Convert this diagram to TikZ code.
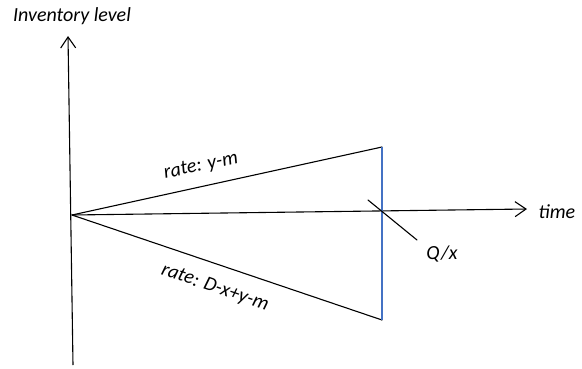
\documentclass[tikz,border=0pt]{standalone}
\usepackage{fontspec}
\setmainfont{Carlito}
\usetikzlibrary{arrows.meta}
\definecolor{officeblue}{RGB}{68,114,196}

\begin{document}
\begin{tikzpicture}[x=1pt,y=-1pt]
\tikzset{
  axisline/.style={draw=black,line width=1.1pt,-{Straight Barb[length=11pt,width=15pt,line width=1.1pt]}},
  rateline/.style={draw=black,line width=1.1pt,line cap=round},
  orderline/.style={draw=officeblue,line width=1.1pt},
  labeltext/.style={font=\itshape\fontsize{20}{22}\selectfont,inner sep=1pt}
}
\useasboundingbox (0,0) rectangle (582,368);
\coordinate (n_origin) at (72,215);
\coordinate (n_bottom) at (73,365);
\coordinate (n_top) at (68,36);
\coordinate (n_timeend) at (527,209);
\coordinate (n_peak) at (382,147);
\coordinate (n_trough) at (382,320);
\coordinate (n_tickA) at (368,200);
\coordinate (n_tickB) at (417,240);
\node[labeltext] (n_invlevel) at (72,16) {Inventory level};
\node[labeltext] (n_time) at (557,212) {time};
\node[labeltext] (n_qx) at (442,254) {Q/x};
\node[labeltext,rotate=12] (n_rateup) at (201,166) {rate: y-m};
\node[labeltext,rotate=-19] (n_ratedown) at (215,288) {rate: D-x+y-m};
\draw[axisline] (n_bottom) -- (n_top);
\draw[axisline] (n_origin) -- (n_timeend);
\draw[rateline] (n_origin) -- (n_peak);
\draw[rateline] (n_origin) -- (n_trough);
\draw[orderline] (n_peak) -- (n_trough);
\draw[rateline] (n_tickA) -- (n_tickB);
\end{tikzpicture}
\end{document}
